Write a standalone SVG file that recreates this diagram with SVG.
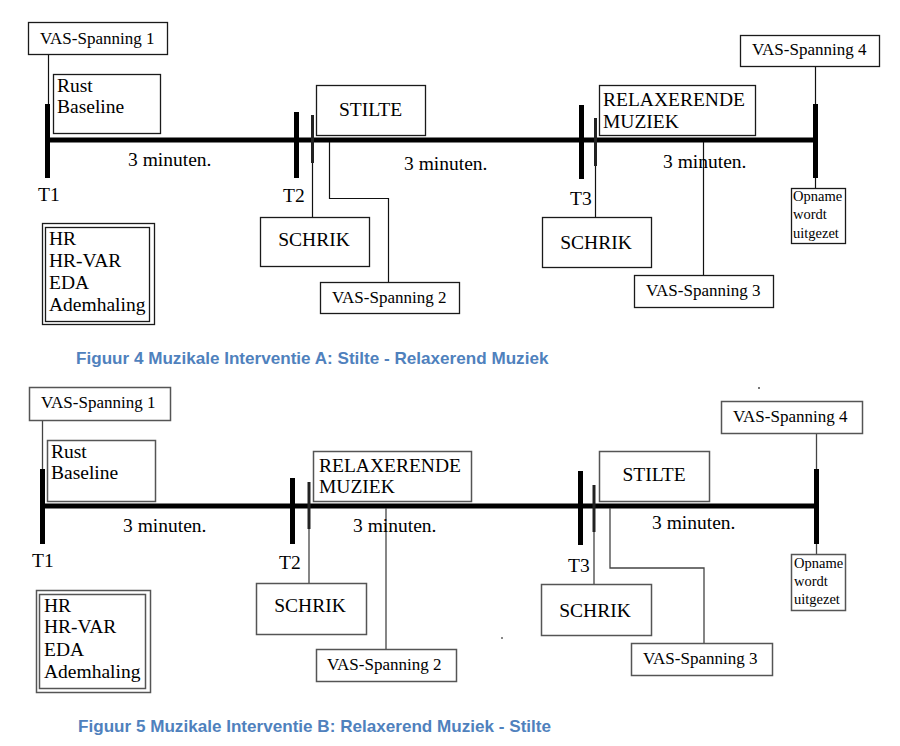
<svg xmlns="http://www.w3.org/2000/svg" width="900" height="746" viewBox="0 0 900 746">
<style>
.bg{fill:#fff}
.box{fill:#fff;stroke:#1a1a1a;stroke-width:1.3}
.box2{fill:#fff;stroke:#555;stroke-width:1.5}
.t,.v,.s{font-family:'Liberation Serif',Tinos,'Times New Roman','DejaVu Serif',serif;fill:#000}
.t{font-size:19.5px}
.v{font-size:17px}
.s{font-size:14.5px}
.thick{stroke:#000;stroke-width:5;fill:none}
.mid{stroke:#222;stroke-width:3;fill:none}
.thin{stroke:#111;stroke-width:1.2;fill:none}
.thin2{stroke:#444;stroke-width:1.3;fill:none}
.cap{font-family:'Liberation Sans',Arial,sans-serif;font-weight:bold;font-size:17.1px;fill:#4f81bd}
</style>
<rect class="bg" x="0" y="0" width="900" height="746"/>

<!-- ===== Figure 4 ===== -->
<g id="fig4-connectors">
  <line class="thick" x1="47" y1="140" x2="817" y2="140"/>
  <line class="thick" x1="47.5" y1="104" x2="47.5" y2="178"/>
  <line class="thick" x1="296.5" y1="112" x2="296.5" y2="178"/>
  <line class="mid" x1="312.5" y1="115" x2="312.5" y2="163"/>
  <line class="thick" x1="581.5" y1="105" x2="581.5" y2="179"/>
  <line class="mid" x1="595.5" y1="118" x2="595.5" y2="166"/>
  <line class="thick" x1="815.5" y1="104" x2="815.5" y2="178"/>
  <line class="thin" x1="48.5" y1="54" x2="48.5" y2="104"/>
  <line class="thin" x1="312.5" y1="163" x2="312.5" y2="217"/>
  <polyline class="thin" points="329.5,142 329.5,198.5 388.5,198.5 388.5,282"/>
  <line class="thin" x1="595.5" y1="166" x2="595.5" y2="217"/>
  <line class="thin" x1="703.5" y1="142" x2="703.5" y2="275"/>
  <line class="thin" x1="815.5" y1="66" x2="815.5" y2="104"/>
  <line class="thin" x1="815.5" y1="178" x2="815.5" y2="188"/>
</g>
<g id="fig4-vas1"><rect class="box" x="28.5" y="22.5" width="139" height="32"/><text class="v" x="40" y="44">VAS-Spanning 1</text></g>
<g id="fig4-rust"><rect class="box" x="53.5" y="74.5" width="107" height="59"/><text class="t" x="57" y="92">Rust</text><text class="t" x="57" y="113">Baseline</text></g>
<g id="fig4-stilte"><rect class="box" x="316.5" y="85.5" width="109" height="50"/><text class="t" x="370.5" y="116" text-anchor="middle">STILTE</text></g>
<g id="fig4-relax"><rect class="box" x="599.5" y="85.5" width="156" height="50"/><text class="t" x="603" y="106">RELAXERENDE</text><text class="t" x="603" y="128">MUZIEK</text></g>
<g id="fig4-vas4"><rect class="box" x="740.5" y="35.5" width="139" height="31"/><text class="v" x="752" y="55">VAS-Spanning 4</text></g>
<g id="fig4-min1"><text class="t" x="128" y="166">3 minuten.</text></g>
<g id="fig4-min2"><text class="t" x="404" y="170">3 minuten.</text></g>
<g id="fig4-min3"><text class="t" x="663" y="168">3 minuten.</text></g>
<g id="fig4-t1"><text class="t" x="38" y="201">T1</text></g>
<g id="fig4-t2"><text class="t" x="283" y="202">T2</text></g>
<g id="fig4-t3"><text class="t" x="570" y="205">T3</text></g>
<g id="fig4-schrik1"><rect class="box" x="260.5" y="217.5" width="109" height="49"/><text class="t" x="314" y="246" text-anchor="middle">SCHRIK</text></g>
<g id="fig4-schrik2"><rect class="box" x="542.5" y="217.5" width="109" height="50"/><text class="t" x="596" y="249" text-anchor="middle">SCHRIK</text></g>
<g id="fig4-vas2"><rect class="box" x="320.5" y="282.5" width="139" height="31"/><text class="v" x="332" y="303">VAS-Spanning 2</text></g>
<g id="fig4-vas3"><rect class="box" x="634.5" y="275.5" width="139" height="32"/><text class="v" x="646" y="296">VAS-Spanning 3</text></g>
<g id="fig4-opname"><rect class="box" x="791.5" y="188.5" width="54" height="55"/><text class="s" x="793" y="201">Opname</text><text class="s" x="793" y="219">wordt</text><text class="s" x="793" y="238">uitgezet</text></g>
<g id="fig4-measures"><rect class="box" x="42.5" y="223.5" width="112" height="101"/><rect class="box" x="45.5" y="227.5" width="104" height="94"/><text class="t" x="49" y="245">HR</text><text class="t" x="49" y="267">HR-VAR</text><text class="t" x="49" y="289">EDA</text><text class="t" x="49" y="311">Ademhaling</text></g>
<text class="cap" x="76" y="364">Figuur 4 Muzikale Interventie A: Stilte - Relaxerend Muziek</text>

<!-- ===== Figure 5 ===== -->
<g id="fig5-connectors">
  <line class="thick" x1="42" y1="506" x2="818" y2="506"/>
  <line class="thick" x1="42.5" y1="469" x2="42.5" y2="544"/>
  <line class="thick" x1="292.5" y1="478" x2="292.5" y2="544"/>
  <line class="mid" x1="309" y1="482" x2="309" y2="529"/>
  <line class="thick" x1="580.5" y1="471" x2="580.5" y2="545"/>
  <line class="mid" x1="594" y1="485" x2="594" y2="532"/>
  <line class="thick" x1="816.5" y1="469" x2="816.5" y2="544"/>
  <line class="thin2" x1="42.5" y1="420" x2="42.5" y2="469"/>
  <line class="thin2" x1="309" y1="529" x2="309" y2="583"/>
  <line class="thin2" x1="386" y1="508" x2="386" y2="649"/>
  <line class="thin2" x1="594" y1="532" x2="594" y2="584"/>
  <polyline class="thin2" points="610,508 610,568 704,568 704,643"/>
  <line class="thin2" x1="816.5" y1="433" x2="816.5" y2="469"/>
  <line class="thin2" x1="816.5" y1="544" x2="816.5" y2="554"/>
</g>
<g id="fig5-vas1"><rect class="box2" x="29.5" y="387.5" width="141" height="33"/><text class="v" x="41" y="408">VAS-Spanning 1</text></g>
<g id="fig5-rust"><rect class="box2" x="47.5" y="440.5" width="108" height="61"/><text class="t" x="51" y="458">Rust</text><text class="t" x="51" y="479">Baseline</text></g>
<g id="fig5-relax"><rect class="box2" x="313.5" y="451.5" width="158" height="50"/><text class="t" x="319" y="472">RELAXERENDE</text><text class="t" x="319" y="493">MUZIEK</text></g>
<g id="fig5-stilte"><rect class="box2" x="599.5" y="451.5" width="110" height="50"/><text class="t" x="654" y="481" text-anchor="middle">STILTE</text></g>
<g id="fig5-vas4"><rect class="box2" x="721.5" y="401.5" width="141" height="32"/><text class="v" x="733" y="422">VAS-Spanning 4</text></g>
<g id="fig5-min1"><text class="t" x="123" y="532">3 minuten.</text></g>
<g id="fig5-min2"><text class="t" x="353" y="532">3 minuten.</text></g>
<g id="fig5-min3"><text class="t" x="652" y="529">3 minuten.</text></g>
<g id="fig5-t1"><text class="t" x="32" y="567">T1</text></g>
<g id="fig5-t2"><text class="t" x="279" y="569">T2</text></g>
<g id="fig5-t3"><text class="t" x="568" y="572">T3</text></g>
<g id="fig5-schrik1"><rect class="box2" x="256.5" y="583.5" width="110" height="51"/><text class="t" x="310" y="612" text-anchor="middle">SCHRIK</text></g>
<g id="fig5-schrik2"><rect class="box2" x="541.5" y="584.5" width="110" height="51"/><text class="t" x="595" y="617" text-anchor="middle">SCHRIK</text></g>
<g id="fig5-vas2"><rect class="box2" x="316.5" y="649.5" width="140" height="32"/><text class="v" x="327" y="670">VAS-Spanning 2</text></g>
<g id="fig5-vas3"><rect class="box2" x="631.5" y="643.5" width="141" height="32"/><text class="v" x="643" y="664">VAS-Spanning 3</text></g>
<g id="fig5-opname"><rect class="box2" x="791.5" y="554.5" width="54" height="56"/><text class="s" x="794" y="568">Opname</text><text class="s" x="794" y="586">wordt</text><text class="s" x="794" y="604">uitgezet</text></g>
<g id="fig5-measures"><rect class="box2" x="36.5" y="590.5" width="114" height="102"/><rect class="box2" x="39.5" y="594.5" width="106" height="94"/><text class="t" x="44" y="612">HR</text><text class="t" x="44" y="633">HR-VAR</text><text class="t" x="44" y="656">EDA</text><text class="t" x="44" y="678">Ademhaling</text></g>
<rect x="758" y="387" width="2" height="2" fill="#777"/>
<rect x="501" y="637" width="2" height="2" fill="#888"/>
<text class="cap" x="78" y="732">Figuur 5 Muzikale Interventie B: Relaxerend Muziek - Stilte</text>
</svg>
